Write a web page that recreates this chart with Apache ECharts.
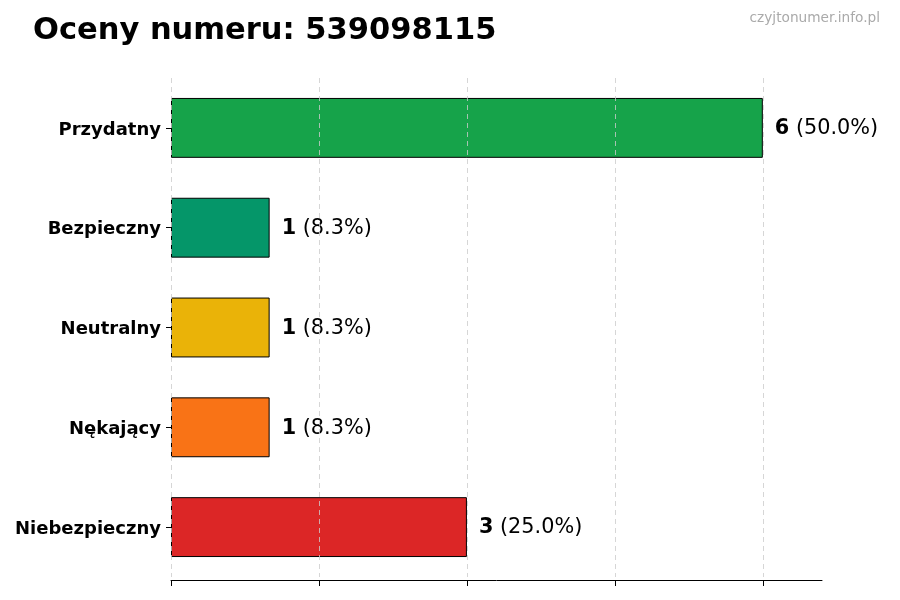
<!DOCTYPE html>
<html>
<head>
<meta charset="utf-8">
<script src="https://cdn.jsdelivr.net/npm/echarts@6/dist/echarts.min.js"></script>
<style>html,body{margin:0;padding:0;background:#fff}#c{width:900px;height:600px}</style>
</head>
<body>
<div id="c"></div>
<script>
const categories = ["Przydatny", "Bezpieczny", "Neutralny", "Nękający", "Niebezpieczny"];
const values = [6, 1, 1, 1, 3];
const percents = ["50.0%", "8.3%", "8.3%", "8.3%", "25.0%"];
const colors = ["#16a34a", "#059669", "#eab308", "#f97316", "#dc2626"];
const xTicks = [0, 1.5, 3, 4.5, 6];

const chart = echarts.init(document.getElementById('c'));
const F = "DejaVu Sans";
chart.setOption({
  animation: false,
  textStyle: { fontFamily: F },
  title: [
    { text: "Oceny numeru: 539098115", left: 28, top: 11,
      textStyle: { fontFamily: F, fontSize: 30.5, fontWeight: 'bold', color: '#000' } },
    { text: "czyjtonumer.info.pl", right: 15, top: 6,
      textStyle: { fontFamily: F, fontSize: 13.7, fontWeight: 'normal', color: '#aaaaaa' } }
  ],
  grid: { left: 171, right: 78, top: 78, height: 499, containLabel: false },
  xAxis: {
    type: 'value', min: 0, max: 6.6, interval: 1.5, offset: 3,
    axisLine: { show: true, lineStyle: { color: '#000', width: 1 } },
    axisTick: { show: true, length: 6, customValues: xTicks, lineStyle: { color: '#000' } },
    axisLabel: { show: false },
    splitLine: { show: false }
  },
  yAxis: {
    type: 'category', data: categories, inverse: true,
    axisLine: { show: false },
    axisTick: { show: true, alignWithLabel: true, length: 5, lineStyle: { color: '#000' } },
    axisLabel: { margin: 10, formatter: v => '{t|' + v + '}',
      rich: { t: { fontFamily: F, fontSize: 18, fontWeight: 'bold', color: '#000', padding: [4, 0, 0, 0] } } }
  },
  series: [{
    type: 'bar', barWidth: '60%',
    data: values.map((v, i) => ({ value: v, itemStyle: { color: colors[i] } })),
    itemStyle: { borderColor: '#000', borderWidth: 1 },
    label: {
      show: true, position: 'right', distance: 12, offset: [0, 1],
      formatter: p => '{b|' + values[p.dataIndex] + '}{n| (' + percents[p.dataIndex] + ')}',
      rich: {
        b: { fontFamily: F, fontSize: 20.8, fontWeight: 'bold', color: '#000' },
        n: { fontFamily: F, fontSize: 20.8, color: '#000' }
      }
    },
    markLine: {
      silent: true, symbol: ['none', 'none'], z: 5,
      label: { show: false },
      lineStyle: { color: '#cccccc', type: [5, 4], width: 0.8 },
      data: xTicks.map(t => ({ xAxis: t }))
    }
  }]
});
</script>
</body>
</html>
